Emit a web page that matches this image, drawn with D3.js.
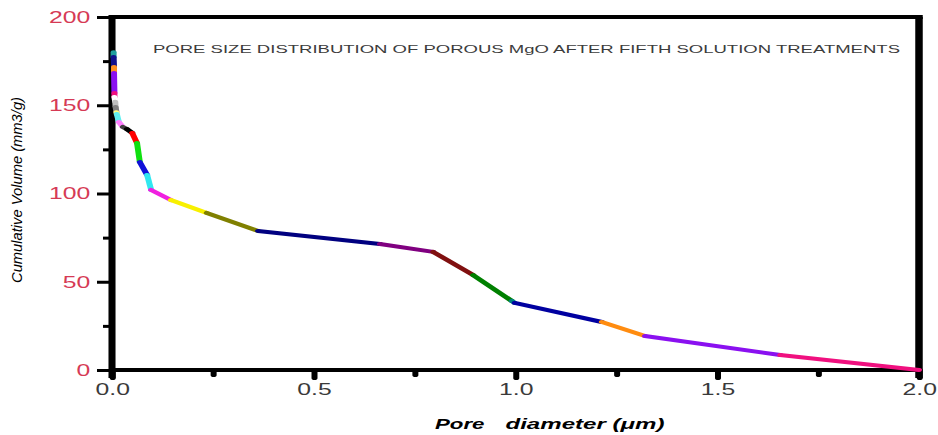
<!DOCTYPE html>
<html>
<head>
<meta charset="utf-8">
<script src="https://cdn.jsdelivr.net/npm/d3@7"></script>
<style>
  html, body { margin: 0; padding: 0; background: #fff; overflow: hidden; }
  svg { display: block; }
</style>
</head>
<body>
<div id="chart"></div>
<script>
// Cumulative intrusion curve: pore diameter (µm) vs cumulative volume (mm3/g)
const poreDiameter = [0.004, 0.004, 0.005, 0.005, 0.006, 0.006, 0.008, 0.009, 0.011, 0.012,
                      0.017, 0.027, 0.037, 0.050, 0.062, 0.069, 0.087, 0.097, 0.146, 0.235,
                      0.362, 0.664, 0.796, 0.895, 0.991, 0.998, 1.214, 1.321, 1.656, 2.000];
const cumulativeVolume = [180, 177.3, 171.7, 168.3, 157, 154.7, 152, 149, 146, 145,
                          140.5, 137.7, 136.5, 134.3, 128.6, 117.8, 110.5, 102, 96.3, 89,
                          78.8, 71.4, 66.9, 53.8, 39.1, 38, 27.2, 19.3, 8.5, 0];
// one colour per segment between consecutive points
const segmentColors = ["#1f9e9e", "#10108c", "#ff9020", "#8a10f0", "#f0107f",
                       "#ffffff", "#c0c0c0", "#808080", "#ffff80", "#60f0f0",
                       "#ff80ff", "#404040", "#000000", "#ff0000", "#10e010",
                       "#1010d8", "#30e8f0", "#f020e0", "#f8f000", "#808000",
                       "#000080", "#800080", "#801010", "#008000", "#008080",
                       "#0000a0", "#ff8c10", "#8a10f0", "#f0107f"];

const xMajorTicks = [0, 0.5, 1.0, 1.5, 2.0];
const xMinorTicks = [0.25, 0.75, 1.25, 1.75];
const yMajorTicks = [0, 50, 100, 150, 200];
const yMinorTicks = [25, 75, 125, 175];

const titleText = "PORE SIZE DISTRIBUTION OF POROUS MgO AFTER FIFTH SOLUTION TREATMENTS";
const xLabelParts = ["Pore", "diameter (\u03bcm)"];
const yLabelText = "Cumulative Volume (mm3/g)";

// The figure is laid out in a narrower frame and widened horizontally to fill the page.
const W = 938, H = 435, SX = 1.5;
const VW = W / SX;
const FONT = "'Liberation Sans', Arial, Helvetica, sans-serif";

const svg = d3.select("#chart").append("svg")
  .attr("width", W).attr("height", H)
  .attr("viewBox", `0 0 ${VW} ${H}`)
  .attr("preserveAspectRatio", "none");

const x = d3.scaleLinear().domain([0, 2]).range([74.67, 612.67]);
const y = d3.scaleLinear().domain([0, 200]).range([370, 17]);

// ---- frame (top and right borders) ----
svg.append("line")
  .attr("x1", x(0) - 2).attr("x2", x(2) + 2.5)
  .attr("y1", y(200)).attr("y2", y(200))
  .attr("stroke", "#000").attr("stroke-width", 4);
svg.append("line")
  .attr("x1", x(2)).attr("x2", x(2))
  .attr("y1", y(200)).attr("y2", y(0) + 8)
  .attr("stroke", "#000").attr("stroke-width", 5);

// ---- x axis ----
const gxMinor = svg.append("g").attr("transform", `translate(0,${y(0)})`)
  .call(d3.axisBottom(x).tickValues(xMinorTicks).tickSize(5).tickSizeOuter(0).tickFormat(""));
const gx = svg.append("g").attr("transform", `translate(0,${y(0)})`)
  .call(d3.axisBottom(x).tickValues(xMajorTicks).tickSize(8).tickSizeOuter(0)
        .tickPadding(5).tickFormat(d3.format(".1f")));
[gx, gxMinor].forEach(g => {
  g.select(".domain").remove();
  g.selectAll(".tick line").attr("stroke", "#000").attr("stroke-width", 4).attr("stroke-linecap", "round");
});
gx.selectAll(".tick text")
  .attr("fill", "#3a3a3a").style("font-family", FONT).style("font-size", "16.5px");

// ---- y axis ----
const gyMinor = svg.append("g").attr("transform", `translate(${x(0)},0)`)
  .call(d3.axisLeft(y).tickValues(yMinorTicks).tickSize(6).tickSizeOuter(0).tickFormat(""));
const gy = svg.append("g").attr("transform", `translate(${x(0)},0)`)
  .call(d3.axisLeft(y).tickValues(yMajorTicks).tickSize(10).tickSizeOuter(0)
        .tickPadding(4.5).tickFormat(d3.format("d")));
[gy, gyMinor].forEach(g => {
  g.select(".domain").remove();
  g.selectAll(".tick line").attr("stroke", "#000").attr("stroke-width", 3);
});
gy.selectAll(".tick text")
  .attr("fill", "#d63a55").style("font-family", FONT).style("font-size", "16.5px");

// axis lines
svg.append("line")
  .attr("x1", x(0)).attr("x2", x(0))
  .attr("y1", y(200) - 2).attr("y2", y(0) + 8)
  .attr("stroke", "#000").attr("stroke-width", 4.7);
svg.append("line")
  .attr("x1", x(0) - 2).attr("x2", x(2))
  .attr("y1", y(0)).attr("y2", y(0))
  .attr("stroke", "#000").attr("stroke-width", 4);

// ---- multicoloured curve ----
const points = poreDiameter.map((d, i) => ({ d, v: cumulativeVolume[i] }));
svg.append("g").selectAll("line")
  .data(d3.pairs(points))
  .join("line")
  .attr("x1", p => x(p[0].d)).attr("y1", p => y(p[0].v))
  .attr("x2", p => x(p[1].d)).attr("y2", p => y(p[1].v))
  .attr("stroke", (p, i) => segmentColors[i])
  .attr("stroke-width", 4)
  .attr("stroke-linecap", "round");

// ---- title ----
svg.append("text")
  .attr("x", 102).attr("y", 53)
  .attr("textLength", 498).attr("lengthAdjust", "spacingAndGlyphs")
  .attr("fill", "#3c3c3c")
  .style("font-family", FONT).style("font-size", "11.6px")
  .text(titleText);

// ---- axis titles ----
const xl = svg.append("g")
  .style("font-family", FONT).style("font-size", "15px")
  .style("font-weight", "bold").style("font-style", "italic");
xl.append("text").attr("x", 290).attr("y", 429)
  .attr("textLength", 33).attr("lengthAdjust", "spacingAndGlyphs")
  .text(xLabelParts[0]);
xl.append("text").attr("x", 337).attr("y", 429)
  .attr("textLength", 106).attr("lengthAdjust", "spacingAndGlyphs")
  .text(xLabelParts[1]);

svg.append("text")
  .attr("transform", `translate(14.5,${190}) rotate(-90)`)
  .attr("text-anchor", "middle")
  .attr("textLength", 186).attr("lengthAdjust", "spacingAndGlyphs")
  .style("font-family", FONT).style("font-size", "9.3px").style("font-style", "italic")
  .text(yLabelText);
</script>
</body>
</html>
